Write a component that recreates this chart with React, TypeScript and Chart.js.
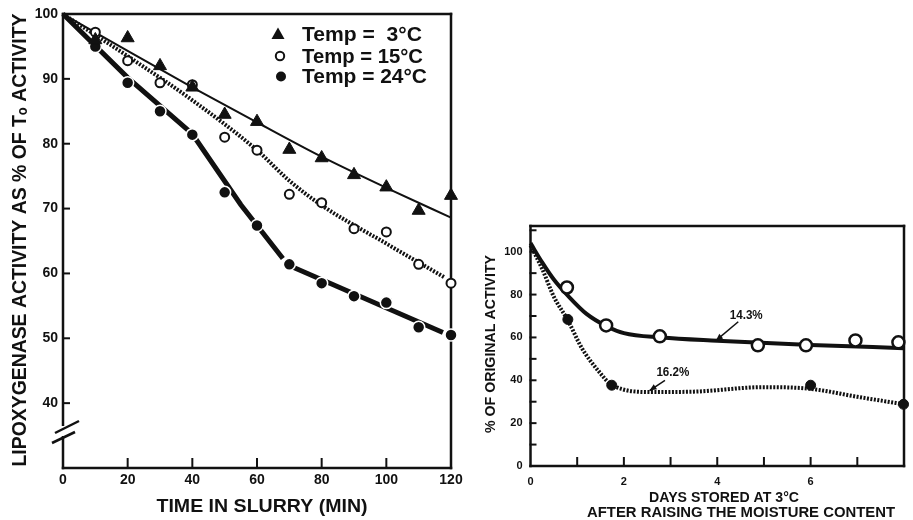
import React, { useEffect, useRef } from "react";
import { Chart, registerables } from "chart.js";

Chart.register(...registerables);

const FONT = "'Liberation Sans', Arial, sans-serif";
const INK = "#111";

// ---------- Left panel: lipoxygenase activity vs time in slurry ----------
const slurryTimes = [10, 20, 30, 40, 50, 60, 70, 80, 90, 100, 110, 120];
const temp3Values = [96, 96.3, 92, 88.7, 84.5, 83.4, 79.1, 77.8, 75.2, 73.3, 69.7, 72];
const temp15Values = [97.2, 92.8, 89.4, 89.1, 81, 79, 72.2, 70.9, 66.9, 66.4, 61.4, 58.5];
const temp24Values = [95, 89.4, 85, 81.4, 72.5, 67.4, 61.4, 58.5, 56.5, 55.5, 51.7, 50.5];

const temp3FitTimes = [0, 20, 40, 60, 80, 100, 120];
const temp3FitValues = [100, 94.3, 88.7, 83.3, 78, 73.2, 68.6];
const temp15FitTimes = [0, 20, 40, 60, 70, 80, 100, 118];
const temp15FitValues = [100, 93.5, 86.7, 79, 74.3, 70.5, 64.6, 59.4];
const temp24FitATimes = [0, 20, 40, 55, 68];
const temp24FitAValues = [100, 90.2, 81.5, 70.6, 62.3];
const temp24FitBTimes = [71, 117.5];
const temp24FitBValues = [61, 50.9];

const leftXTickMarks = [20, 40, 60, 80, 100, 120];
const leftYTickMarks = [40, 50, 60, 70, 80, 90];
const legendLabels = ["Temp =  3°C", "Temp = 15°C", "Temp = 24°C"];

// ---------- Right panel: activity vs days stored ----------
const moist143Days = [0.78, 1.62, 2.77, 4.87, 5.9, 6.96, 7.88];
const moist143Values = [83.3, 65.6, 60.5, 56.3, 56.3, 58.6, 57.7];
const moist162Days = [0.8, 1.74, 6.0, 7.99];
const moist162Values = [68.4, 37.7, 37.7, 28.8];

const moist143FitDays = [0, 0.25, 0.5, 0.8, 1.2, 1.65, 2, 2.8, 4, 6, 8];
const moist143FitValues = [104, 95, 87, 79.5, 71, 65, 62, 60, 58.5, 56.5, 55];
const moist162FitDays = [0, 0.25, 0.5, 0.8, 1.1, 1.45, 1.75, 2.6, 3.5, 5, 6, 7, 8];
const moist162FitValues = [103, 92, 79, 68, 55, 44.5, 37.7, 34.5, 34.7, 36.8, 36, 32.3, 28.8];

const rightXTickMarks = [1, 2, 3, 4, 5, 6, 7];
const rightYTickMarks = [10, 20, 30, 40, 50, 60, 70, 80, 90, 100, 110];
const curveLabels = ["14.3%", "16.2%"];

const pts = (xs: number[], ys: number[]) => xs.map((x, i) => ({ x, y: ys[i] }));

function fitText(
  ctx: CanvasRenderingContext2D,
  text: string,
  cx: number,
  cy: number,
  width: number,
  font: string,
  rotate = false
) {
  ctx.save();
  ctx.font = font;
  ctx.fillStyle = INK;
  ctx.textAlign = "center";
  ctx.textBaseline = "middle";
  ctx.translate(cx, cy);
  if (rotate) ctx.rotate(-Math.PI / 2);
  const w = ctx.measureText(text).width;
  ctx.scale(width / w, 1);
  ctx.fillText(text, 0, 0);
  ctx.restore();
}

function line(ctx: CanvasRenderingContext2D, x1: number, y1: number, x2: number, y2: number, w: number) {
  ctx.save();
  ctx.strokeStyle = INK;
  ctx.lineWidth = w;
  ctx.beginPath();
  ctx.moveTo(x1, y1);
  ctx.lineTo(x2, y2);
  ctx.stroke();
  ctx.restore();
}

function arrow(ctx: CanvasRenderingContext2D, x1: number, y1: number, x2: number, y2: number) {
  line(ctx, x1, y1, x2, y2, 1.5);
  const a = Math.atan2(y2 - y1, x2 - x1);
  const L = 7;
  const s = 3;
  ctx.save();
  ctx.fillStyle = INK;
  ctx.beginPath();
  ctx.moveTo(x2, y2);
  ctx.lineTo(x2 - L * Math.cos(a) + s * Math.sin(a), y2 - L * Math.sin(a) - s * Math.cos(a));
  ctx.lineTo(x2 - L * Math.cos(a) - s * Math.sin(a), y2 - L * Math.sin(a) + s * Math.cos(a));
  ctx.closePath();
  ctx.fill();
  ctx.restore();
}

function drawBox(chart: any, tickX: number[], tickY: number[], lenX: number, lenY: number) {
  const ctx = chart.ctx as CanvasRenderingContext2D;
  const { left, right, top, bottom } = chart.chartArea;
  const w = 2.5;
  line(ctx, left, top - w / 2, left, bottom + w / 2, w);
  line(ctx, left - w / 2, bottom, right + w / 2, bottom, w);
  line(ctx, left - w / 2, top, right + w / 2, top, w);
  line(ctx, right, top - w / 2, right, bottom + w / 2, w);
  const xs = chart.scales.x;
  const ys = chart.scales.y;
  tickX.forEach((v) => {
    const px = xs.getPixelForValue(v);
    line(ctx, px, bottom, px, bottom - lenX, 2);
  });
  tickY.forEach((v) => {
    const py = ys.getPixelForValue(v);
    line(ctx, left - 1, py, left + lenY, py, 2);
  });
}

const leftDecor = {
  id: "leftDecor",
  beforeDatasetsDraw(chart: any) {
    drawBox(chart, leftXTickMarks, leftYTickMarks, 10, 7);
  },
  afterDatasetsDraw(chart: any) {
    const ctx = chart.ctx as CanvasRenderingContext2D;
    const { left, bottom } = chart.chartArea;
    // axis break
    ctx.save();
    ctx.fillStyle = "#fff";
    ctx.fillRect(left - 3, bottom - 42, 6, 10);
    ctx.restore();
    line(ctx, left - 8, bottom - 35, left + 16, bottom - 47, 2.5);
    line(ctx, left - 11, bottom - 25, left + 12, bottom - 36, 2.5);

    // legend
    const rows = [34, 56, 76.5];
    const widths = [120, 121, 125];
    ctx.save();
    ctx.fillStyle = INK;
    const tx = 278, ty = rows[0];
    ctx.beginPath();
    ctx.moveTo(tx, ty - 6.5);
    ctx.lineTo(tx + 6.5, ty + 5);
    ctx.lineTo(tx - 6.5, ty + 5);
    ctx.closePath();
    ctx.fill();
    ctx.strokeStyle = INK;
    ctx.lineWidth = 2;
    ctx.beginPath();
    ctx.arc(280, rows[1], 4.2, 0, Math.PI * 2);
    ctx.stroke();
    ctx.beginPath();
    ctx.arc(281, rows[2], 5, 0, Math.PI * 2);
    ctx.fill();
    ctx.restore();
    legendLabels.forEach((t, i) => {
      fitText(ctx, t, 302 + widths[i] / 2, rows[i] + 1, widths[i], `bold 20px ${FONT}`);
    });

    // axis titles
    fitText(ctx, "LIPOXYGENASE ACTIVITY AS % OF Tₒ ACTIVITY", 20, 240, 453, `bold 21px ${FONT}`, true);
    fitText(ctx, "TIME IN SLURRY (MIN)", 262, 507, 211, `bold 18px ${FONT}`);
  },
};

const rightDecor = {
  id: "rightDecor",
  beforeDatasetsDraw(chart: any) {
    drawBox(chart, rightXTickMarks, rightYTickMarks, 9, 6);
  },
  afterDatasetsDraw(chart: any) {
    const ctx = chart.ctx as CanvasRenderingContext2D;
    const xs = chart.scales.x;
    const ys = chart.scales.y;
    const P = (d: number, v: number): [number, number] => [xs.getPixelForValue(d), ys.getPixelForValue(v)];

    const [l1x, l1y] = P(4.62, 70.2);
    fitText(ctx, curveLabels[0], l1x, l1y, 33, `bold 12px ${FONT}`);
    const [a1x, a1y] = P(4.45, 67.3);
    const [b1x, b1y] = P(3.97, 58.5);
    arrow(ctx, a1x, a1y, b1x, b1y);

    const [l2x, l2y] = P(3.05, 43.7);
    fitText(ctx, curveLabels[1], l2x, l2y, 33, `bold 12px ${FONT}`);
    const [a2x, a2y] = P(2.88, 40);
    const [b2x, b2y] = P(2.55, 35.2);
    arrow(ctx, a2x, a2y, b2x, b2y);

    fitText(ctx, "% OF ORIGINAL ACTIVITY", 21, 344, 178, `bold 14px ${FONT}`, true);
    fitText(ctx, "DAYS STORED AT 3°C", 254, 498, 150, `bold 14px ${FONT}`);
    fitText(ctx, "AFTER RAISING THE MOISTURE CONTENT", 271, 513, 308, `bold 14px ${FONT}`);
  },
};

const tickFont = (size: number) => ({ family: FONT, size, weight: "bold" as const });

export default function App() {
  const leftRef = useRef<HTMLCanvasElement>(null);
  const rightRef = useRef<HTMLCanvasElement>(null);

  useEffect(() => {
    const fitLine = (data: any[], width: number, dash: number[] = [], smooth = true) => ({
      data,
      showLine: true,
      pointRadius: 0,
      borderColor: INK,
      borderWidth: width,
      borderDash: dash,
      cubicInterpolationMode: smooth ? ("monotone" as const) : ("default" as const),
      tension: smooth ? 0.4 : 0,
      clip: false as any,
      fill: false,
    });

    const left = new Chart(leftRef.current!, {
      type: "scatter",
      data: {
        datasets: [
          {
            label: legendLabels[0],
            data: pts(slurryTimes, temp3Values),
            pointStyle: "triangle",
            pointRadius: 7.5,
            backgroundColor: INK,
            borderColor: INK,
            borderWidth: 1,
            showLine: false,
            clip: false as any,
          },
          {
            label: legendLabels[1],
            data: pts(slurryTimes, temp15Values),
            pointStyle: "circle",
            pointRadius: 4.5,
            backgroundColor: "#fff",
            borderColor: INK,
            borderWidth: 2,
            showLine: false,
            clip: false as any,
          },
          {
            label: legendLabels[2],
            data: pts(slurryTimes, temp24Values),
            pointStyle: "circle",
            pointRadius: 6,
            backgroundColor: INK,
            borderColor: "#fff",
            borderWidth: 1.5,
            showLine: false,
            clip: false as any,
          },
          fitLine(pts(temp3FitTimes, temp3FitValues), 2),
          fitLine(pts(temp15FitTimes, temp15FitValues), 4, [2, 1.5]),
          fitLine(pts(temp24FitATimes, temp24FitAValues), 5, [], false),
          fitLine(pts(temp24FitBTimes, temp24FitBValues), 5, [], false),
        ] as any,
      },
      options: {
        animation: false,
        responsive: false,
        devicePixelRatio: 1,
        layout: { padding: { left: 0, top: 14, right: 19, bottom: 0 } },
        plugins: { legend: { display: false }, tooltip: { enabled: false } },
        scales: {
          x: {
            type: "linear",
            min: 0,
            max: 120,
            afterFit: (s: any) => {
              s.height = 52;
            },
            grid: { display: false, drawTicks: false },
            border: { display: false },
            ticks: {
              stepSize: 20,
              autoSkip: false,
              maxRotation: 0,
              padding: 4,
              color: INK,
              font: tickFont(14),
            },
          },
          y: {
            type: "linear",
            min: 30,
            max: 100,
            afterFit: (s: any) => {
              s.width = 63;
            },
            grid: { display: false, drawTicks: false },
            border: { display: false },
            ticks: {
              stepSize: 10,
              autoSkip: false,
              padding: 5,
              color: INK,
              font: tickFont(14),
              callback: (v: any) => (Number(v) >= 40 ? String(v) : ""),
            },
          },
        },
      },
      plugins: [leftDecor],
    });

    const right = new Chart(rightRef.current!, {
      type: "scatter",
      data: {
        datasets: [
          {
            label: curveLabels[0],
            data: pts(moist143Days, moist143Values),
            pointStyle: "circle",
            pointRadius: 6,
            backgroundColor: "#fff",
            borderColor: INK,
            borderWidth: 2.5,
            showLine: false,
            clip: false as any,
          },
          {
            label: curveLabels[1],
            data: pts(moist162Days, moist162Values),
            pointStyle: "circle",
            pointRadius: 5,
            backgroundColor: INK,
            borderColor: INK,
            borderWidth: 1,
            showLine: false,
            clip: false as any,
          },
          fitLine(pts(moist143FitDays, moist143FitValues), 4),
          fitLine(pts(moist162FitDays, moist162FitValues), 4, [2, 1.5]),
        ] as any,
      },
      options: {
        animation: false,
        responsive: false,
        devicePixelRatio: 1,
        layout: { padding: { left: 0, top: 226, right: 1.5, bottom: 0 } },
        plugins: { legend: { display: false }, tooltip: { enabled: false } },
        scales: {
          x: {
            type: "linear",
            min: 0,
            max: 8,
            afterFit: (s: any) => {
              s.height = 54;
            },
            grid: { display: false, drawTicks: false },
            border: { display: false },
            ticks: {
              stepSize: 2,
              autoSkip: false,
              maxRotation: 0,
              padding: 9,
              color: INK,
              font: tickFont(11),
              callback: (v: any) => (Number(v) < 8 ? String(v) : ""),
            },
          },
          y: {
            type: "linear",
            min: 0,
            max: 112,
            afterFit: (s: any) => {
              s.width = 60.5;
            },
            grid: { display: false, drawTicks: false },
            border: { display: false },
            ticks: {
              stepSize: 20,
              autoSkip: false,
              padding: 8,
              color: INK,
              font: tickFont(11),
              callback: (v: any) => (Number(v) % 20 === 0 && Number(v) <= 100 ? String(v) : ""),
            },
          },
        },
      },
      plugins: [rightDecor],
    });

    return () => {
      left.destroy();
      right.destroy();
    };
  }, []);

  return (
    <div style={{ position: "absolute", left: 0, top: 0, width: 913, height: 520, background: "#fff" }}>
      <canvas ref={leftRef} width={470} height={520} style={{ position: "absolute", left: 0, top: 0 }} />
      <canvas ref={rightRef} width={443} height={520} style={{ position: "absolute", left: 470, top: 0 }} />
    </div>
  );
}
